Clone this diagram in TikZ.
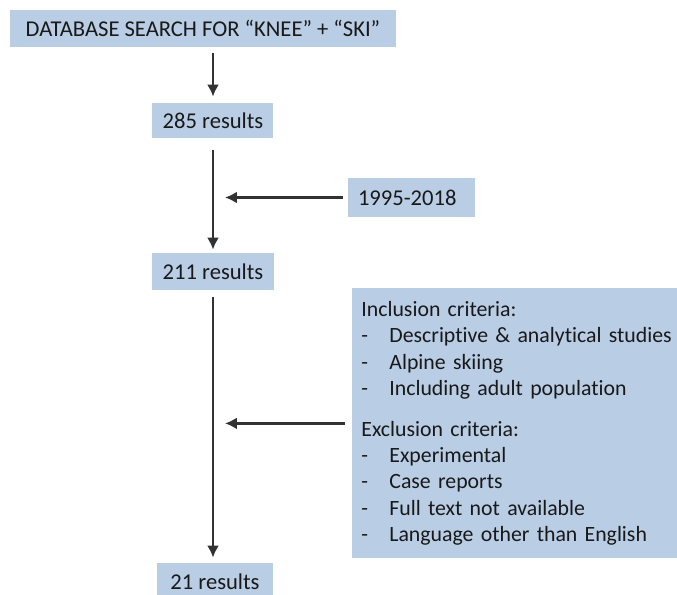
\documentclass[tikz,border=0pt]{standalone}
\usepackage{fontspec}
\setmainfont{Carlito}[Ligatures=NoCommon]
\usetikzlibrary{arrows.meta}
\definecolor{boxblue}{RGB}{185,205,229}
\definecolor{arrowgray}{RGB}{50,50,50}
\newcommand{\critem}[1]{\makebox[14pt][l]{-}#1}

\begin{document}
\begin{tikzpicture}[x=0.5pt, y=-0.5pt, font=\fontsize{11.3}{13.2}\selectfont,
    every node/.style={text=black!90},
    stagebox/.style={fill=boxblue, inner sep=0pt, minimum height=18.5pt},
    critbox/.style={fill=boxblue, align=left, text width=180pt, inner xsep=4.5pt, minimum height=135pt,
        font=\fontsize{10.9}{13.2}\selectfont},
    flow/.style={draw=arrowgray, line width=1.1pt, -{Latex[length=6pt,width=6pt]}}]

    \useasboundingbox (0,0) rectangle (677,595);
    \clip (0,0) rectangle (677,595);

    \node[stagebox, minimum width=193pt] (search) at (203,28.5) {DATABASE SEARCH FOR “KNEE” + “SKI”};
    \node[stagebox, minimum width=60.5pt, minimum height=17.5pt] (r285) at (213,120.5) {285 results};
    \node[stagebox, minimum height=19.5pt, text width=53.5pt, align=left, inner xsep=5pt] (yrs) at (411.5,197.5) {1995-2018};
    \node[stagebox, minimum width=61pt] (r211) at (213,271.5) {211 results};
    \node[stagebox, minimum width=58pt] (r21) at (215,581.5) {21 results};
    \node[critbox, anchor=north west] (crit) at (352,288) {Inclusion criteria:\\
        \critem{Descriptive \& analytical studies}\\
        \critem{Alpine skiing}\\
        \critem{Including adult population}\\[7pt]
        Exclusion criteria:\\
        \critem{Experimental}\\
        \critem{Case reports}\\
        \critem{Full text not available}\\
        \critem{Language other than English}};

    \draw[flow] ([yshift=-3pt]search.south -| r285.north) -- ([yshift=3pt]r285.north);
    \draw[flow] ([yshift=-6pt]r285.south) -- ([yshift=1.5pt]r211.north);
    \draw[flow] ([xshift=-2.5pt]yrs.west) -- ([xshift=6pt]yrs.west -| r285.south);
    \draw[flow] ([yshift=-3.5pt]r211.south) -- ([yshift=2.5pt]r21.north -| r211.south);
    \draw[flow] ([xshift=-3.5pt]crit.west) -- ([xshift=6pt]crit.west -| r211.south);
\end{tikzpicture}
\end{document}
